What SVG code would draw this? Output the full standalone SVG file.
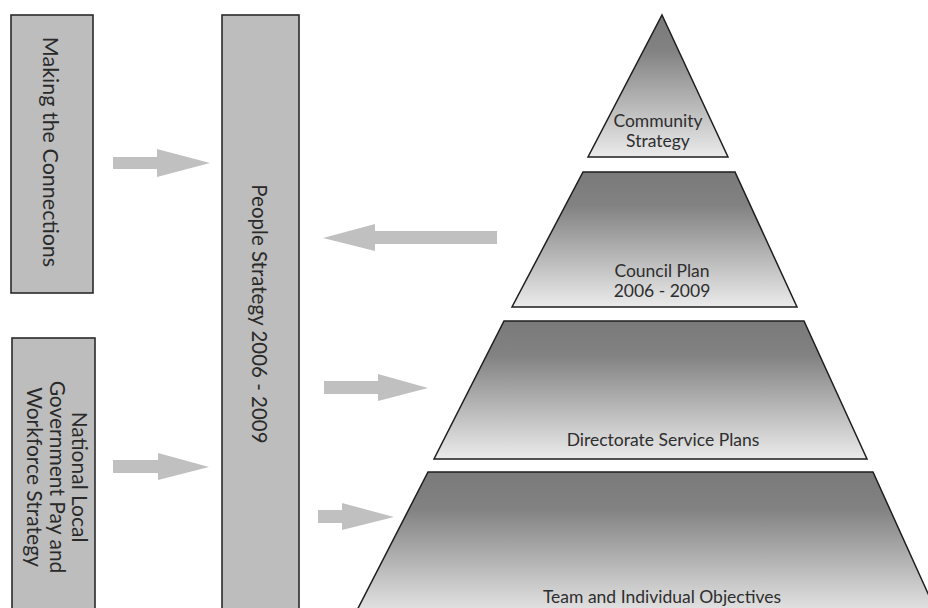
<svg xmlns="http://www.w3.org/2000/svg" width="928" height="608" viewBox="0 0 928 608">
<defs>
<linearGradient id="pg" x1="0" y1="0" x2="0" y2="1">
<stop offset="0" stop-color="#7a7a7a"/>
<stop offset="0.25" stop-color="#828282"/>
<stop offset="1" stop-color="#ebebeb"/>
</linearGradient>
<style>
.box{fill:#bdbdbd;stroke:#2a2a2a;stroke-width:1.6}
.lvl{fill:url(#pg);stroke:#1e1e1e;stroke-width:1.5}
.arr{fill:#c0c0c0}
.vt{font-family:Lato,"Open Sans","Liberation Sans",sans-serif;font-size:21px;fill:#2a2a2a;text-anchor:middle}
.pt{font-family:Lato,"Open Sans","Liberation Sans",sans-serif;font-size:17.5px;fill:#2e2e2e;text-anchor:middle}
</style>
</defs>
<rect width="928" height="608" fill="#fff"/>
<g id="making-connections">
<rect class="box" x="11" y="15" width="82" height="278"/>
<text class="vt" transform="translate(43,152) rotate(90)" x="0" y="0" style="font-size:21.5px">Making the Connections</text>
</g>
<g id="people-strategy">
<rect class="box" x="222" y="15" width="77" height="610"/>
<text class="vt" transform="translate(252,314) rotate(90)" x="0" y="0" style="font-size:20.5px">People Strategy 2006 - 2009</text>
</g>
<g id="national-local">
<rect class="box" x="12" y="338" width="83" height="290"/>
<g transform="translate(0,477) rotate(90)">
<text class="vt" x="0" y="-72">National Local</text>
<text class="vt" x="0" y="-50">Government Pay and</text>
<text class="vt" x="0" y="-27">Workforce Strategy</text>
</g>
</g>
<g id="community-strategy">
<polygon class="lvl" points="662,15 728,157 588,157"/>
<text class="pt" x="658" y="127">Community</text>
<text class="pt" x="658" y="147">Strategy</text>
</g>
<g id="council-plan">
<polygon class="lvl" points="583,172 735,172 797,307 512,307"/>
<text class="pt" x="662" y="277">Council Plan</text>
<text class="pt" x="662" y="297">2006 - 2009</text>
</g>
<g id="directorate-plans">
<polygon class="lvl" points="504,321 804,321 867,459 434,459"/>
<text class="pt" x="663" y="446">Directorate Service Plans</text>
</g>
<g id="team-objectives">
<polygon class="lvl" points="428,472 873,472 940,620 352,620"/>
<text class="pt" x="662" y="603">Team and Individual Objectives</text>
</g>
<g id="connectors">
<polygon class="arr" points="113,157 157,157 157,149 210,163 157,177 157,169 113,169"/>
<polygon class="arr" points="113,460 158,460 158,453 209,467 158,480 158,473 113,473"/>
<polygon class="arr" points="497,231 375,231 375,224 323,238 375,251 375,244 497,244"/>
<polygon class="arr" points="324,381 378,381 378,374 428,388 378,401 378,394 324,394"/>
<polygon class="arr" points="318,510 342,510 342,503 394,517 342,530 342,523 318,523"/>
</g>
</svg>
